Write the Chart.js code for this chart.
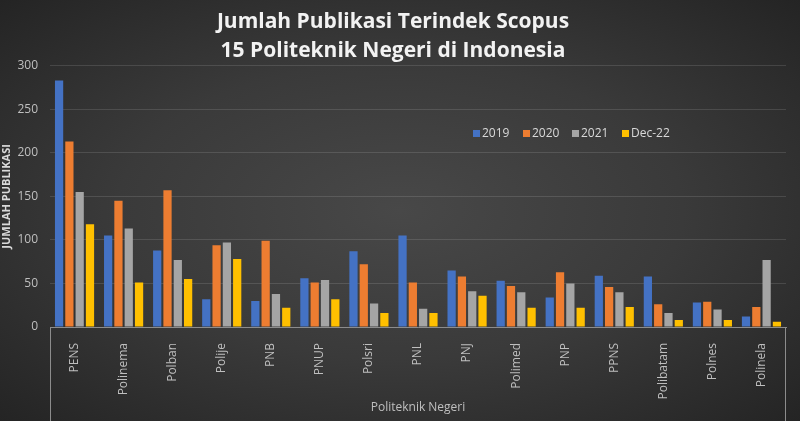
<!DOCTYPE html>
<html>
<head>
<meta charset="utf-8">
<script src="https://cdn.jsdelivr.net/npm/chart.js@4"></script>
<style>
  html, body { margin: 0; padding: 0; }
  body {
    width: 800px; height: 421px; overflow: hidden;
    background: radial-gradient(ellipse at 50% 50%, #484848 0%, #3a3a3a 50%, #242424 100%);
  }
  #wrap { position: relative; width: 800px; height: 421px; }
</style>
</head>
<body>
<div id="wrap"><canvas id="pubChart"></canvas></div>
<script>
// Kategorien (Politeknik) und Werte pro Jahr
const politeknik = ['PENS', 'Polinema', 'Polban', 'Polije', 'PNB', 'PNUP', 'Polsri', 'PNL', 'PNJ', 'Polimed', 'PNP', 'PPNS', 'Polibatam', 'Polnes', 'Polinela'];
const seriesLabels = ['2019', '2020', '2021', 'Dec-22'];
const data2019 = [283, 105, 88, 32, 30, 56, 87, 105, 65, 53, 34, 59, 58, 28, 12];
const data2020 = [213, 145, 157, 94, 99, 51, 72, 51, 58, 47, 63, 46, 26, 29, 23];
const data2021 = [155, 113, 77, 97, 38, 54, 27, 21, 41, 40, 50, 40, 16, 20, 77];
const dataDec22 = [118, 51, 55, 78, 22, 32, 16, 16, 36, 22, 22, 23, 8, 8, 6];
const yTicks = [0, 50, 100, 150, 200, 250, 300];

const barColors = ['#4472C4', '#ED7D31', '#A5A5A5', '#FFC000'];
const textColor = '#bfbfbf';

// Legende innerhalb des Diagrammbereichs zeichnen
const innerLegend = {
    id: 'innerLegend',
    afterDraw(chart) {
        const ctx = chart.ctx;
        const xs = [473, 523, 572, 622];
        ctx.save();
        ctx.font = '12px "Open Sans", sans-serif';
        ctx.textBaseline = 'middle';
        chart.data.datasets.forEach((ds, i) => {
            ctx.fillStyle = ds.backgroundColor;
            ctx.fillRect(xs[i], 130, 7, 7);
            ctx.fillStyle = '#d9d9d9';
            ctx.fillText(ds.label, xs[i] + 9, 134);
        });
        ctx.restore();
    }
};

// Senkrechte Linien unter der x-Achse (links und rechts)
const axisFrame = {
    id: 'axisFrame',
    afterDraw(chart) {
        const { ctx, chartArea } = chart;
        ctx.save();
        ctx.strokeStyle = '#8c8c8c';
        ctx.lineWidth = 1;
        ctx.beginPath();
        ctx.moveTo(chartArea.left + 0.5, chartArea.bottom);
        ctx.lineTo(chartArea.left + 0.5, chart.height);
        ctx.moveTo(chartArea.right - 0.5, chartArea.bottom);
        ctx.lineTo(chartArea.right - 0.5, chart.height);
        ctx.stroke();
        ctx.restore();
    }
};

const seriesData = [data2019, data2020, data2021, dataDec22];

new Chart(document.getElementById('pubChart'), {
    type: 'bar',
    data: {
        labels: politeknik,
        datasets: seriesLabels.map((label, i) => ({
            label: label,
            data: seriesData[i],
            backgroundColor: barColors[i],
            borderWidth: 0,
            categoryPercentage: 0.84,
            barPercentage: 0.8
        }))
    },
    options: {
        responsive: true,
        maintainAspectRatio: false,
        animation: false,
        layout: { padding: { left: 0, right: 14, top: 0, bottom: 0 } },
        plugins: {
            legend: { display: false },
            tooltip: { enabled: false },
            title: {
                display: true,
                text: ['Jumlah Publikasi Terindek Scopus', '15 Politeknik Negeri di Indonesia'],
                color: '#f2f2f2',
                font: { family: '"Open Sans", sans-serif', size: 21, weight: 'bold', lineHeight: 1.4 },
                padding: { top: 7, bottom: 0 }
            }
        },
        scales: {
            x: {
                grid: { display: false },
                border: { display: true, color: '#8c8c8c', width: 1 },
                ticks: {
                    color: textColor,
                    maxRotation: 90,
                    minRotation: 90,
                    padding: 8,
                    font: { family: '"Open Sans", sans-serif', size: 12 }
                },
                title: {
                    display: true,
                    text: 'Politeknik Negeri',
                    color: textColor,
                    font: { family: '"Open Sans", sans-serif', size: 12 },
                    padding: { top: 0, bottom: 6 }
                },
                afterFit(scale) { scale.height = 94; }
            },
            y: {
                min: 0,
                max: 300,
                afterBuildTicks(scale) { scale.ticks = yTicks.map(v => ({ value: v })); },
                grid: { color: 'rgba(255,255,255,0.12)', drawTicks: false },
                border: { display: false },
                ticks: {
                    color: textColor,
                    padding: 12,
                    font: { family: '"Open Sans", sans-serif', size: 12 }
                },
                title: {
                    display: true,
                    text: 'JUMLAH PUBLIKASI',
                    color: '#d9d9d9',
                    font: { family: '"Open Sans", sans-serif', size: 11, weight: 'bold' },
                    padding: { top: 0, bottom: 0 }
                },
                afterFit(scale) { scale.width = 50; }
            }
        }
    },
    plugins: [innerLegend, axisFrame]
});
</script>
</body>
</html>
